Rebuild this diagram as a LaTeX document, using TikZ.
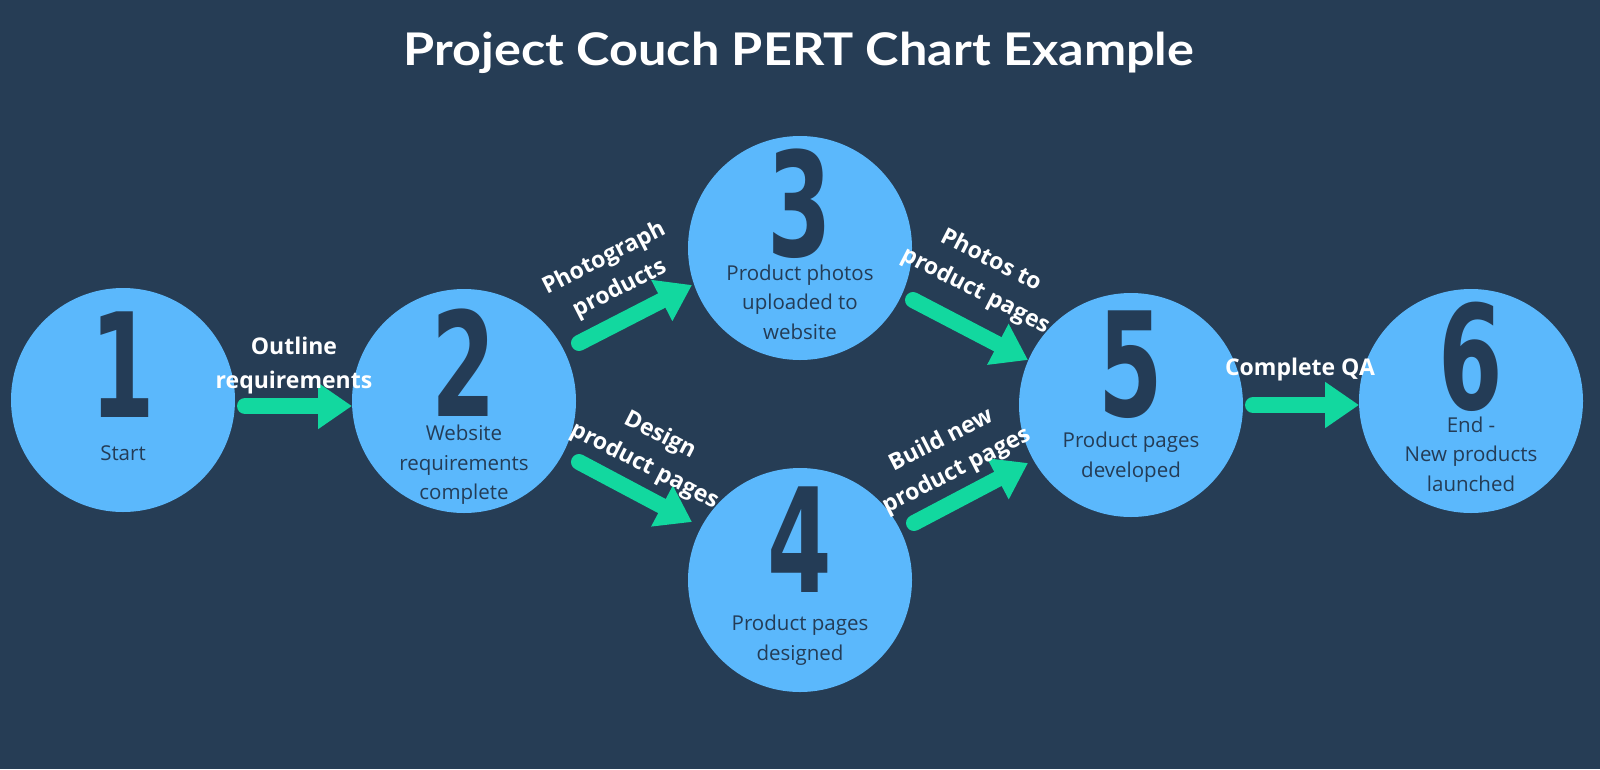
\documentclass[tikz,border=0pt]{standalone}
\usepackage{fontspec}
\setmainfont{Open Sans}
\newfontfamily\titlefont{Lato}
\newfontfamily\numfont{DejaVu Sans}
\usetikzlibrary{arrows.meta}
\definecolor{bg}{HTML}{263D55}
\definecolor{circ}{HTML}{5BB8FC}
\definecolor{grn}{HTML}{12D89F}
\definecolor{ink}{HTML}{243C56}
\newcommand\dig[1]{\scalebox{0.64}[1]{#1}}
\begin{document}
\begin{tikzpicture}[x=1pt,y=1pt,
  ev/.style={circle, fill=circ, minimum size=224pt, inner sep=0pt},
  num/.style={anchor=base, text=ink, inner sep=0pt, font=\numfont\bfseries\fontsize{145}{145}\selectfont},
  desc/.style={text=ink, align=center, inner sep=0pt, font=\fontsize{20.5}{29.5}\selectfont},
  lab/.style={text=white, align=center, inner sep=0pt, font=\bfseries\fontsize{23}{34}\selectfont},
  arr/.style={draw=grn, line width=16pt, line cap=round, -{Triangle[length=34pt 0,width=44pt 0]}}
]
\fill[bg] (0,0) rectangle (1600,-769);
\useasboundingbox (0,0) rectangle (1600,-769);

\node[text=white, anchor=base, inner sep=0pt, font=\titlefont\bfseries\fontsize{45}{45}\selectfont] (title) at (799,-65) {\scalebox{1.12}[1]{Project Couch PERT Chart Example}};

% events
\node[ev] (c1) at (123,-400) {};
\node[ev] (c2) at (464,-401) {};
\node[ev] (c3) at (800,-248) {};
\node[ev] (c4) at (800,-580) {};
\node[ev] (c5) at (1131,-405) {};
\node[ev] (c6) at (1471,-401) {};

% numbers
\node[num] (n1) at (123,-417) {\dig{1}};
\node[num] (n2) at (464,-416) {\dig{2}};
\node[num] (n3) at (800,-256) {\dig{3}};
\node[num] (n4) at (800,-592) {\dig{4}};
\node[num] (n5) at (1131,-416) {\dig{5}};
\node[num] (n6) at (1471,-409) {\dig{6}};

% descriptions
\node[desc] (d1) at (123,-453) {Start};
\node[desc] (d2) at (464,-465) {Website\\requirements\\complete};
\node[desc] (d3) at (800,-302) {Product photos\\uploaded to\\website};
\node[desc] (d4) at (800,-640) {Product pages\\designed};
\node[desc] (d5) at (1131,-457) {Product pages\\developed};
\node[desc] (d6) at (1471,-454) {End -\\New products\\launched};

% arrow end points
\coordinate (a12s) at (245,-406);  \coordinate (a12e) at (352,-406);
\coordinate (a23s) at (579,-343);  \coordinate (a23e) at (692,-285);
\coordinate (a24s) at (579,-462);  \coordinate (a24e) at (692,-522);
\coordinate (a35s) at (913,-300);  \coordinate (a35e) at (1028,-360);
\coordinate (a45s) at (914,-523);  \coordinate (a45e) at (1028,-463);
\coordinate (a56s) at (1253,-405); \coordinate (a56e) at (1359,-405);

\draw[arr] (a12s) -- (a12e);
\draw[arr] (a23s) -- (a23e);
\draw[arr] (a24s) -- (a24e);
\draw[arr] (a35s) -- (a35e);
\draw[arr] (a45s) -- (a45e);
\draw[arr] (a56s) -- (a56e);

% activity labels
\node[lab] (l12) at (294,-366) {Outline\\requirements};
\node[lab, rotate=27] (l23) at (612,-274) {Photograph\\products};
\node[lab, rotate=-27] (l24) at (652,-451) {Design\\product pages};
\node[lab, rotate=-27] (l35) at (983,-276) {Photos to\\product pages};
\node[lab, rotate=27] (l45) at (949,-456) {Build new\\product pages};
\node[lab] (l56) at (1300,-370) {Complete QA};
\end{tikzpicture}
\end{document}
